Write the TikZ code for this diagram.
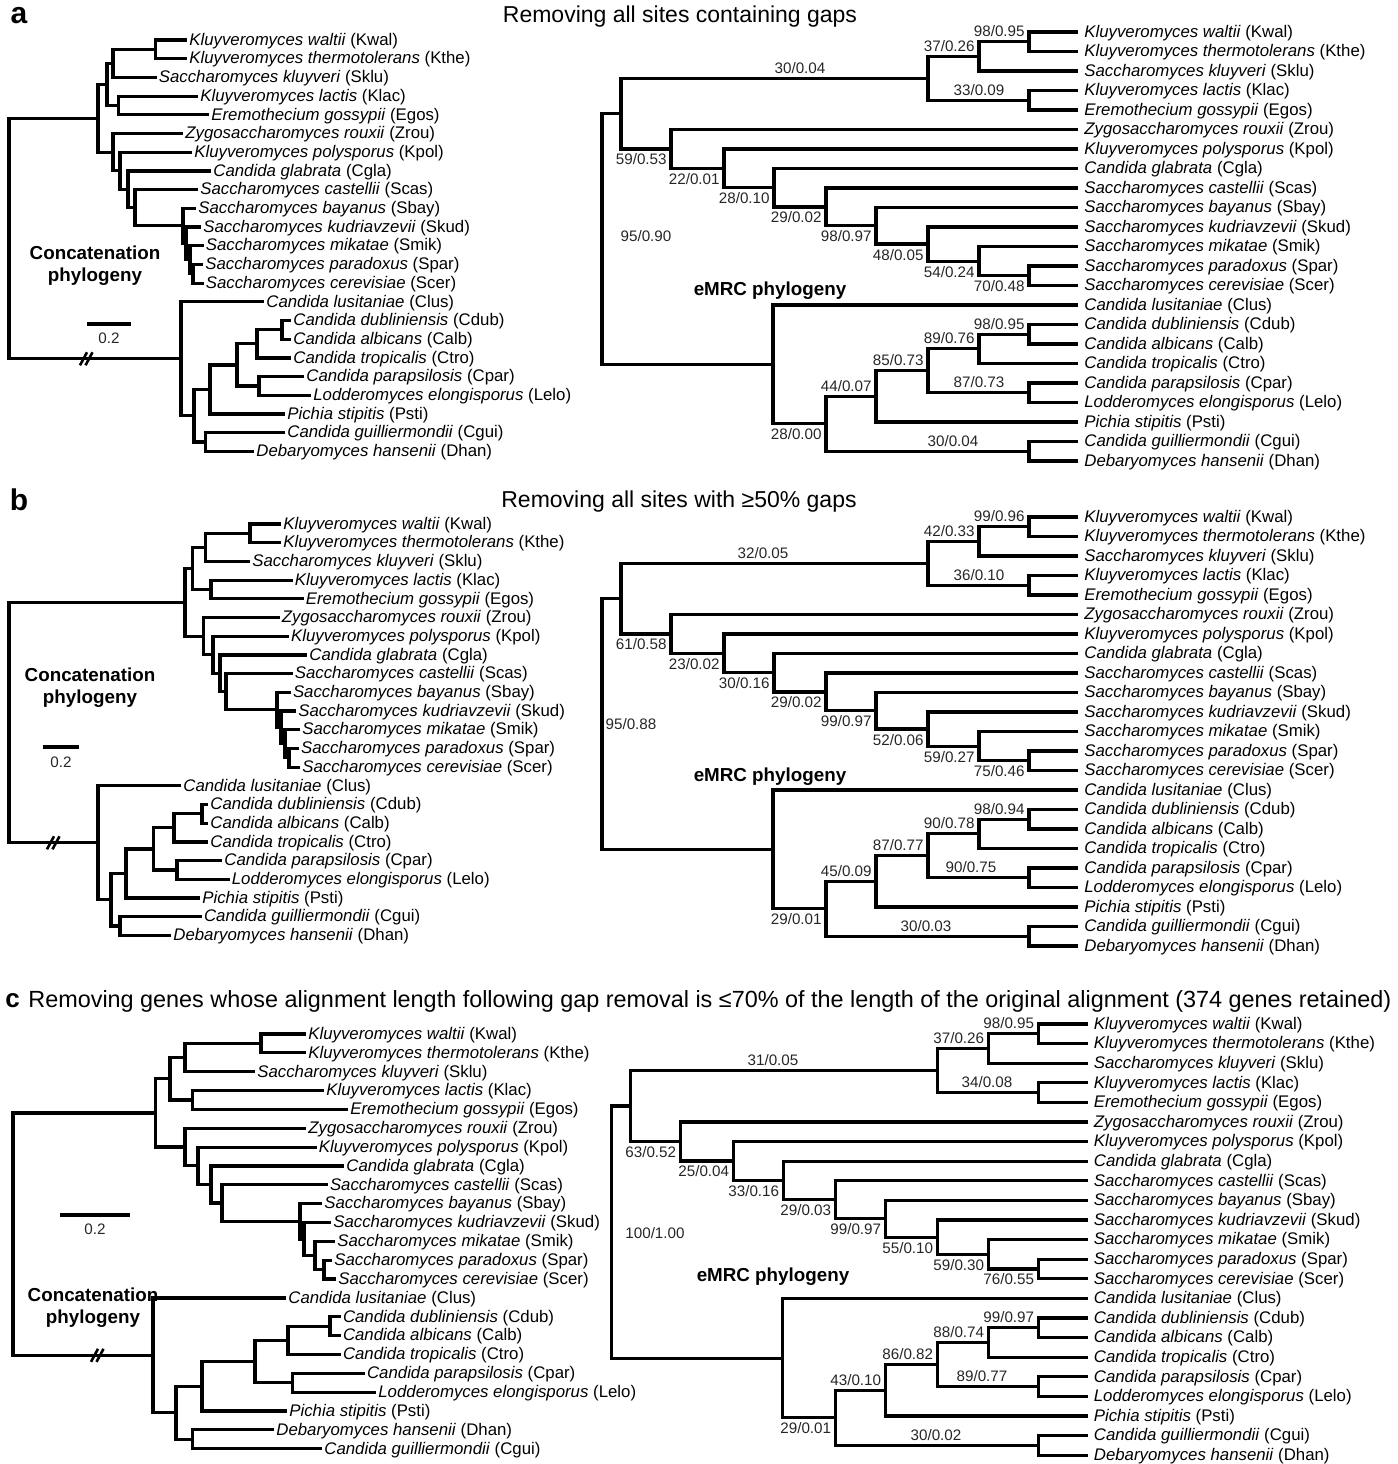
\documentclass[tikz,border=0pt]{standalone}
\usepackage{fontspec}
\setmainfont{Liberation Sans}
\usetikzlibrary{calc}

% taxon labels: italic binomial followed by the upright abbreviation
\newcommand\taxon[2]{\textit{#1} (#2)}
\newcommand\txKwal{\taxon{Kluyveromyces waltii}{Kwal}}
\newcommand\txKthe{\taxon{Kluyveromyces thermotolerans}{Kthe}}
\newcommand\txSklu{\taxon{Saccharomyces kluyveri}{Sklu}}
\newcommand\txKlac{\taxon{Kluyveromyces lactis}{Klac}}
\newcommand\txEgos{\taxon{Eremothecium gossypii}{Egos}}
\newcommand\txZrou{\taxon{Zygosaccharomyces rouxii}{Zrou}}
\newcommand\txKpol{\taxon{Kluyveromyces polysporus}{Kpol}}
\newcommand\txCgla{\taxon{Candida glabrata}{Cgla}}
\newcommand\txScas{\taxon{Saccharomyces castellii}{Scas}}
\newcommand\txSbay{\taxon{Saccharomyces bayanus}{Sbay}}
\newcommand\txSkud{\taxon{Saccharomyces kudriavzevii}{Skud}}
\newcommand\txSmik{\taxon{Saccharomyces mikatae}{Smik}}
\newcommand\txSpar{\taxon{Saccharomyces paradoxus}{Spar}}
\newcommand\txScer{\taxon{Saccharomyces cerevisiae}{Scer}}
\newcommand\txClus{\taxon{Candida lusitaniae}{Clus}}
\newcommand\txCdub{\taxon{Candida dubliniensis}{Cdub}}
\newcommand\txCalb{\taxon{Candida albicans}{Calb}}
\newcommand\txCtro{\taxon{Candida tropicalis}{Ctro}}
\newcommand\txCpar{\taxon{Candida parapsilosis}{Cpar}}
\newcommand\txLelo{\taxon{Lodderomyces elongisporus}{Lelo}}
\newcommand\txPsti{\taxon{Pichia stipitis}{Psti}}
\newcommand\txCgui{\taxon{Candida guilliermondii}{Cgui}}
\newcommand\txDhan{\taxon{Debaryomyces hansenii}{Dhan}}

\tikzset{
  branch/.style={line width=1.6pt, line join=miter},
  brkline/.style={line width=1.3pt},
  leaflabel/.style={anchor=mid west, inner sep=0pt, xshift=\lgap,
    font=\fontsize{8.4}{10}\selectfont},
  support/.style={inner sep=0pt, text=black!85, font=\fontsize{7.6}{9}\selectfont},
  cladelab/.style={inner sep=0pt, align=center, font=\bfseries\fontsize{9.4}{11}\selectfont},
  paneltitle/.style={inner sep=0pt, font=\fontsize{11.5}{14}\selectfont},
  panelletter/.style={inner sep=0pt, font=\bfseries\fontsize{15}{18}\selectfont},
}

% leaf tip: prefix, taxon key, x of branch end, row index
\newcommand\leaf[4]{%
  \coordinate (#1#2) at ({#3},{\lyz+(#4)*\ldy});
  \node[leaflabel] (#1#2t) at (#1#2) {\csname tx#2\endcsname};}
% internal node: name, x, upper child, lower child
\newcommand\clade[4]{%
  \coordinate (#1m) at ($(#3)!0.5!(#4)$);
  \coordinate (#1x) at ({#2},0);
  \coordinate (#1) at (#1x |- #1m);
  \draw[branch] (#3) -| (#1) |- (#4);}
% support values: above / below the branch entering a node, or centred above it
\newcommand\supa[3]{\node[support,anchor=east] (#1) at ($(#2)+(-4,-10.5)$) {#3};}
\newcommand\supb[3]{\node[support,anchor=east] (#1) at ($(#2)+(-4,10.5)$) {#3};}
\newcommand\supc[4]{\coordinate (#1x) at (#3,0);
  \node[support] (#1) at ($(#1x |- #2)+(0,-10.5)$) {#4};}
% broken-branch mark
\newcommand\brk[3]{%
  \coordinate (#1x) at (#2,0);
  \coordinate (#1) at (#1x |- #3);
  \draw[brkline] ($(#1)+(-6,6.5)$) -- ($(#1)+(1,-6.5)$);
  \draw[brkline] ($(#1)+(-0.5,6.5)$) -- ($(#1)+(6.5,-6.5)$);}

% eMRC tree: prefix, horizontal shift
\newcommand\emrctree[2]{%
  \leaf{#1}{Kwal}{1078+#2}{0}
  \leaf{#1}{Kthe}{1078+#2}{1}
  \leaf{#1}{Sklu}{1078+#2}{2}
  \leaf{#1}{Klac}{1078+#2}{3}
  \leaf{#1}{Egos}{1078+#2}{4}
  \leaf{#1}{Zrou}{1078+#2}{5}
  \leaf{#1}{Kpol}{1078+#2}{6}
  \leaf{#1}{Cgla}{1078+#2}{7}
  \leaf{#1}{Scas}{1078+#2}{8}
  \leaf{#1}{Sbay}{1078+#2}{9}
  \leaf{#1}{Skud}{1078+#2}{10}
  \leaf{#1}{Smik}{1078+#2}{11}
  \leaf{#1}{Spar}{1078+#2}{12}
  \leaf{#1}{Scer}{1078+#2}{13}
  \leaf{#1}{Clus}{1078+#2}{14}
  \leaf{#1}{Cdub}{1078+#2}{15}
  \leaf{#1}{Calb}{1078+#2}{16}
  \leaf{#1}{Ctro}{1078+#2}{17}
  \leaf{#1}{Cpar}{1078+#2}{18}
  \leaf{#1}{Lelo}{1078+#2}{19}
  \leaf{#1}{Psti}{1078+#2}{20}
  \leaf{#1}{Cgui}{1078+#2}{21}
  \leaf{#1}{Dhan}{1078+#2}{22}
  \clade{#1n98}{1029+#2}{#1Kwal}{#1Kthe}
  \clade{#1n37}{979+#2}{#1n98}{#1Sklu}
  \clade{#1n33}{1029+#2}{#1Klac}{#1Egos}
  \clade{#1n30}{928+#2}{#1n37}{#1n33}
  \clade{#1n70}{1029+#2}{#1Spar}{#1Scer}
  \clade{#1n54}{979+#2}{#1Smik}{#1n70}
  \clade{#1n48}{928+#2}{#1Skud}{#1n54}
  \clade{#1n98b}{876+#2}{#1Sbay}{#1n48}
  \clade{#1n29}{826+#2}{#1Scas}{#1n98b}
  \clade{#1n28}{774+#2}{#1Cgla}{#1n29}
  \clade{#1n22}{724+#2}{#1Kpol}{#1n28}
  \clade{#1n59}{671+#2}{#1Zrou}{#1n22}
  \clade{#1nA}{621+#2}{#1n30}{#1n59}
  \clade{#1n98c}{1029+#2}{#1Cdub}{#1Calb}
  \clade{#1n89}{979+#2}{#1n98c}{#1Ctro}
  \clade{#1n87}{1029+#2}{#1Cpar}{#1Lelo}
  \clade{#1n85}{928+#2}{#1n89}{#1n87}
  \clade{#1n44}{876+#2}{#1n85}{#1Psti}
  \clade{#1n30b}{1029+#2}{#1Cgui}{#1Dhan}
  \clade{#1n28b}{826+#2}{#1n44}{#1n30b}
  \clade{#1nB}{773+#2}{#1Clus}{#1n28b}
  \clade{#1root}{602+#2}{#1nA}{#1nB}}

% concatenation tree (shared clade structure), prefix
\newcommand\concatclades[1]{%
  \clade{#1nKK}{\xKK}{#1Kwal}{#1Kthe}
  \clade{#1nKKS}{\xKKS}{#1nKK}{#1Sklu}
  \clade{#1nKE}{\xKE}{#1Klac}{#1Egos}
  \clade{#1nK}{\xK}{#1nKKS}{#1nKE}
  \clade{#1nZh}{\xZh}{#1Spar}{#1Scer}
  \clade{#1nZg}{\xZg}{#1Smik}{#1nZh}
  \clade{#1nZf}{\xZf}{#1Skud}{#1nZg}
  \clade{#1nZe}{\xZe}{#1Sbay}{#1nZf}
  \clade{#1nZd}{\xZd}{#1Scas}{#1nZe}
  \clade{#1nZc}{\xZc}{#1Cgla}{#1nZd}
  \clade{#1nZb}{\xZb}{#1Kpol}{#1nZc}
  \clade{#1nZ}{\xZ}{#1Zrou}{#1nZb}
  \clade{#1nU}{\xU}{#1nK}{#1nZ}
  \clade{#1nT}{\xT}{#1Cdub}{#1Calb}
  \clade{#1nR}{\xR}{#1nT}{#1Ctro}
  \clade{#1nS}{\xS}{#1Cpar}{#1Lelo}
  \clade{#1nQ}{\xQ}{#1nR}{#1nS}
  \clade{#1nP}{\xP}{#1nQ}{#1Psti}
  \clade{#1nM}{\xM}{#1nP}{#1nG}
  \clade{#1nL}{\xL}{#1Clus}{#1nM}
  \clade{#1root}{\xRoot}{#1nU}{#1nL}}

\newcommand\lgap{1pt}
\newcommand\lyz{0}
\newcommand\ldy{0}

\begin{document}
\begin{tikzpicture}[x=0.5pt, y=-0.5pt]
\useasboundingbox (0,0) rectangle (1398,1464);

% ---------------- panel a ----------------
\node[panelletter] (pa) at (19,16) {a};
\node[paneltitle] (ta) at (680,17) {Removing all sites containing gaps};

\renewcommand\lgap{1pt}
\renewcommand\lyz{40}\renewcommand\ldy{18.7}
\leaf{aL}{Kwal}{187}{0}
\leaf{aL}{Kthe}{187}{1}
\leaf{aL}{Sklu}{156.5}{2}
\leaf{aL}{Klac}{198}{3}
\leaf{aL}{Egos}{209}{4}
\leaf{aL}{Zrou}{183}{5}
\leaf{aL}{Kpol}{192}{6}
\leaf{aL}{Cgla}{211}{7}
\leaf{aL}{Scas}{198}{8}
\leaf{aL}{Sbay}{196}{9}
\leaf{aL}{Skud}{201}{10}
\leaf{aL}{Smik}{203.5}{11}
\leaf{aL}{Spar}{203}{12}
\leaf{aL}{Scer}{203.5}{13}
\leaf{aL}{Clus}{264}{14}
\leaf{aL}{Cdub}{291}{15}
\leaf{aL}{Calb}{291}{16}
\leaf{aL}{Ctro}{291}{17}
\leaf{aL}{Cpar}{304}{18}
\leaf{aL}{Lelo}{311}{19}
\leaf{aL}{Psti}{285}{20}
\leaf{aL}{Cgui}{285}{21}
\leaf{aL}{Dhan}{254}{22}
\def\xKK{155.5}\def\xKKS{113}\def\xKE{118.5}\def\xK{107}
\def\xZh{193}\def\xZg{190}\def\xZf{186}\def\xZe{183}\def\xZd{135}
\def\xZc{128}\def\xZb{120}\def\xZ{113}\def\xU{98}
\def\xT{282}\def\xR{257}\def\xS{259}\def\xQ{237}\def\xP{210}
\def\xM{194}\def\xL{181}\def\xRoot{9}
\clade{aLnG}{205.5}{aLCgui}{aLDhan}
\concatclades{aL}
\brk{aLbrk}{86}{aLnL}
\node[cladelab] (aLname) at (95,266) {Concatenation\\phylogeny};
\coordinate (aLs1) at (87,324); \coordinate (aLs2) at (131,324);
\draw[branch] (aLs1) -- (aLs2);
\node[support] (aLsl) at (109,338) {0.2};

\renewcommand\lgap{3pt}
\renewcommand\lyz{32}\renewcommand\ldy{19.5}
\emrctree{aR}{0}
\supa{aRs98}{aRn98}{98/0.95}
\supa{aRs37}{aRn37}{37/0.26}
\supc{aRs30}{aRn30}{800}{30/0.04}
\supc{aRs33}{aRn33}{979}{33/0.09}
\supb{aRs59}{aRn59}{59/0.53}
\supb{aRs22}{aRn22}{22/0.01}
\supb{aRs28}{aRn28}{28/0.10}
\supb{aRs29}{aRn29}{29/0.02}
\supb{aRs98b}{aRn98b}{98/0.97}
\supb{aRs48}{aRn48}{48/0.05}
\supb{aRs54}{aRn54}{54/0.24}
\supb{aRs70}{aRn70}{70/0.48}
\supa{aRs98c}{aRn98c}{98/0.95}
\supa{aRs89}{aRn89}{89/0.76}
\supa{aRs85}{aRn85}{85/0.73}
\supa{aRs44}{aRn44}{44/0.07}
\supc{aRs87}{aRn87}{979}{87/0.73}
\supb{aRs28b}{aRn28b}{28/0.00}
\supc{aRs30b}{aRn30b}{953}{30/0.04}
\node[support] (aRsr) at (646,236) {95/0.90};
\node[cladelab] (aRname) at (770,291) {eMRC phylogeny};

% ---------------- panel b ----------------
\node[panelletter] (pb) at (19,500) {b};
\node[paneltitle] (tb) at (679,502) {Removing all sites with ≥50\% gaps};

\renewcommand\lgap{1pt}
\renewcommand\lyz{524}\renewcommand\ldy{18.7}
\leaf{bL}{Kwal}{281}{0}
\leaf{bL}{Kthe}{281}{1}
\leaf{bL}{Sklu}{250}{2}
\leaf{bL}{Klac}{292.5}{3}
\leaf{bL}{Egos}{303.5}{4}
\leaf{bL}{Zrou}{279.5}{5}
\leaf{bL}{Kpol}{288.7}{6}
\leaf{bL}{Cgla}{307}{7}
\leaf{bL}{Scas}{292.5}{8}
\leaf{bL}{Sbay}{290.6}{9}
\leaf{bL}{Skud}{296}{10}
\leaf{bL}{Smik}{300}{11}
\leaf{bL}{Spar}{298.7}{12}
\leaf{bL}{Scer}{300}{13}
\leaf{bL}{Clus}{181}{14}
\leaf{bL}{Cdub}{208}{15}
\leaf{bL}{Calb}{208}{16}
\leaf{bL}{Ctro}{208}{17}
\leaf{bL}{Cpar}{222}{18}
\leaf{bL}{Lelo}{229.5}{19}
\leaf{bL}{Psti}{200}{20}
\leaf{bL}{Cgui}{201.7}{21}
\leaf{bL}{Dhan}{171}{22}
\def\xKK{250}\def\xKKS{205.6}\def\xKE{211}\def\xK{192.6}
\def\xZh{289}\def\xZg{285}\def\xZf{281}\def\xZe{277}\def\xZd{226}
\def\xZc{220}\def\xZb{213}\def\xZ{203.7}\def\xU{185}
\def\xT{202}\def\xR{174}\def\xS{177}\def\xQ{153.7}\def\xP{126}
\def\xM{111}\def\xL{98}\def\xRoot{9}
\clade{bLnG}{120}{bLCgui}{bLDhan}
\concatclades{bL}
\brk{bLbrk}{53}{bLnL}
\node[cladelab] (bLname) at (90,687.5) {Concatenation\\phylogeny};
\coordinate (bLs1) at (43,747); \coordinate (bLs2) at (79,747);
\draw[branch] (bLs1) -- (bLs2);
\node[support] (bLsl) at (61,762) {0.2};

\renewcommand\lgap{3pt}
\renewcommand\lyz{517}\renewcommand\ldy{19.5}
\emrctree{bR}{0}
\supa{bRs98}{bRn98}{99/0.96}
\supa{bRs37}{bRn37}{42/0.33}
\supc{bRs30}{bRn30}{763}{32/0.05}
\supc{bRs33}{bRn33}{979}{36/0.10}
\supb{bRs59}{bRn59}{61/0.58}
\supb{bRs22}{bRn22}{23/0.02}
\supb{bRs28}{bRn28}{30/0.16}
\supb{bRs29}{bRn29}{29/0.02}
\supb{bRs98b}{bRn98b}{99/0.97}
\supb{bRs48}{bRn48}{52/0.06}
\supb{bRs54}{bRn54}{59/0.27}
\supb{bRs70}{bRn70}{75/0.46}
\supa{bRs98c}{bRn98c}{98/0.94}
\supa{bRs89}{bRn89}{90/0.78}
\supa{bRs85}{bRn85}{87/0.77}
\supa{bRs44}{bRn44}{45/0.09}
\supc{bRs87}{bRn87}{971}{90/0.75}
\supb{bRs28b}{bRn28b}{29/0.01}
\supc{bRs30b}{bRn30b}{926}{30/0.03}
\node[support] (bRsr) at (631,724) {95/0.88};
\node[cladelab] (bRname) at (770,777) {eMRC phylogeny};

% ---------------- panel c ----------------
\node[panelletter, anchor=west, font=\bfseries\fontsize{13}{16}\selectfont] (pc) at (5,1001) {c};
\node[paneltitle, anchor=west, font=\fontsize{11.7}{14}\selectfont] (tc) at (28,1001) {Removing genes whose alignment length following gap removal is ≤70\% of the length of the original alignment (374 genes retained)};

\renewcommand\lgap{1pt}
\renewcommand\lyz{1034}\renewcommand\ldy{18.85}
\leaf{cL}{Kwal}{306}{0}
\leaf{cL}{Kthe}{306}{1}
\leaf{cL}{Sklu}{255}{2}
\leaf{cL}{Klac}{324}{3}
\leaf{cL}{Egos}{348}{4}
\leaf{cL}{Zrou}{306}{5}
\leaf{cL}{Kpol}{316.5}{6}
\leaf{cL}{Cgla}{344}{7}
\leaf{cL}{Scas}{327.6}{8}
\leaf{cL}{Sbay}{322}{9}
\leaf{cL}{Skud}{331}{10}
\leaf{cL}{Smik}{335}{11}
\leaf{cL}{Spar}{332}{12}
\leaf{cL}{Scer}{336}{13}
\leaf{cL}{Clus}{286}{14}
\leaf{cL}{Cdub}{340.6}{15}
\leaf{cL}{Calb}{340.6}{16}
\leaf{cL}{Ctro}{340.6}{17}
\leaf{cL}{Cpar}{364.7}{18}
\leaf{cL}{Lelo}{376}{19}
\leaf{cL}{Psti}{287}{20}
\leaf{cL}{Dhan}{274}{21}
\leaf{cL}{Cgui}{322}{22}
\def\xKK{261}\def\xKKS{185}\def\xKE{192.6}\def\xK{170}
\def\xZh{324}\def\xZg{315}\def\xZf{304}\def\xZe{300}\def\xZd{222}
\def\xZc{211}\def\xZb{198}\def\xZ{185}\def\xU{155.5}
\def\xT{330}\def\xR{288}\def\xS{292.6}\def\xQ{255}\def\xP{202}
\def\xM{176}\def\xL{153}\def\xRoot{13}
\clade{cLnG}{192.6}{cLDhan}{cLCgui}
\concatclades{cL}
\brk{cLbrk}{97}{cLnL}
\node[cladelab] (cLname) at (93,1308) {Concatenation\\phylogeny};
\coordinate (cLs1) at (60,1215); \coordinate (cLs2) at (130,1215);
\draw[branch] (cLs1) -- (cLs2);
\node[support] (cLsl) at (95,1229) {0.2};

\renewcommand\lgap{3pt}
\renewcommand\lyz{1024}\renewcommand\ldy{19.6}
\emrctree{cR}{9.5}
\supa{cRs98}{cRn98}{98/0.95}
\supa{cRs37}{cRn37}{37/0.26}
\supc{cRs30}{cRn30}{773}{31/0.05}
\supc{cRs33}{cRn33}{987}{34/0.08}
\supb{cRs59}{cRn59}{63/0.52}
\supb{cRs22}{cRn22}{25/0.04}
\supb{cRs28}{cRn28}{33/0.16}
\supb{cRs29}{cRn29}{29/0.03}
\supb{cRs98b}{cRn98b}{99/0.97}
\supb{cRs48}{cRn48}{55/0.10}
\supb{cRs54}{cRn54}{59/0.30}
\supb{cRs70}{cRn70}{76/0.55}
\supa{cRs98c}{cRn98c}{99/0.97}
\supa{cRs89}{cRn89}{88/0.74}
\supa{cRs85}{cRn85}{86/0.82}
\supa{cRs44}{cRn44}{43/0.10}
\supc{cRs87}{cRn87}{982}{89/0.77}
\supb{cRs28b}{cRn28b}{29/0.01}
\supc{cRs30b}{cRn30b}{936}{30/0.02}
\node[support] (cRsr) at (655,1233) {100/1.00};
\node[cladelab] (cRname) at (773,1277) {eMRC phylogeny};
\end{tikzpicture}
\end{document}
